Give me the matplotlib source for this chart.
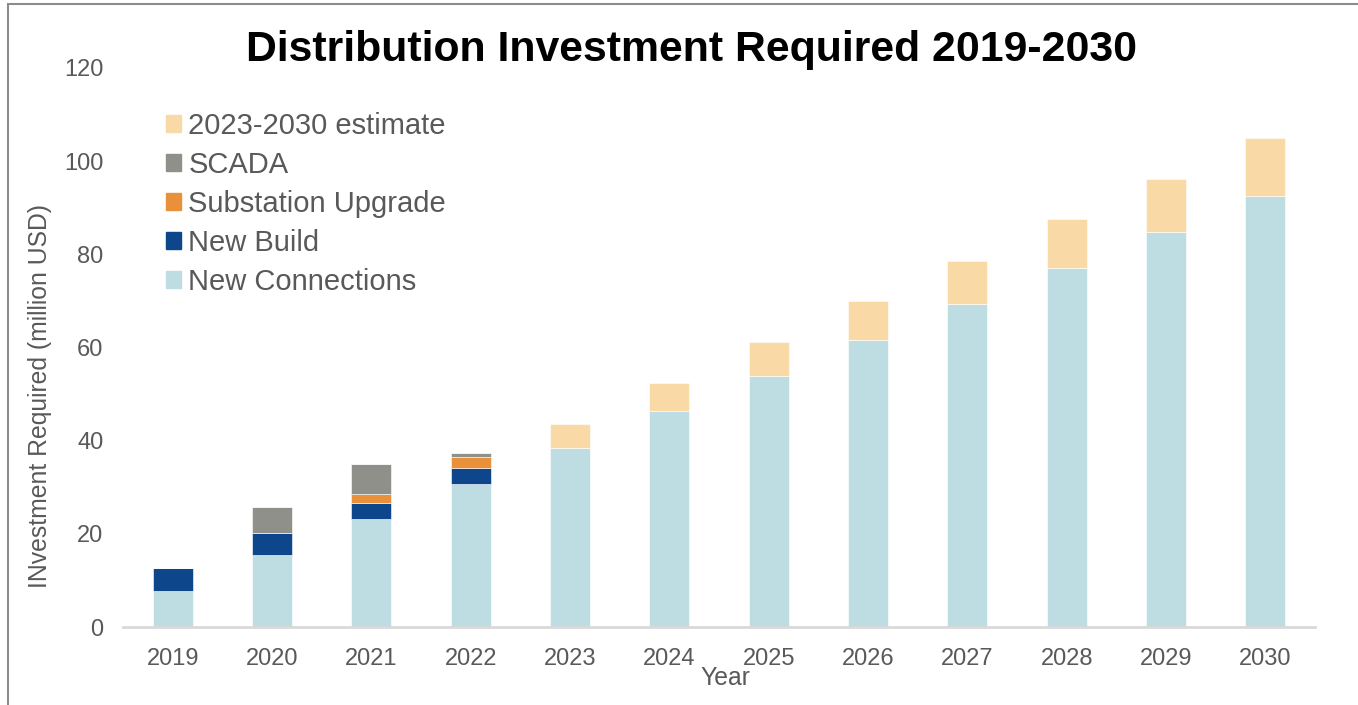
import numpy as np
import matplotlib.pyplot as plt
import matplotlib.patches as mpatches

plt.rcParams['font.family'] = ['Liberation Sans', 'DejaVu Sans']

years = ["2019", "2020", "2021", "2022", "2023", "2024", "2025", "2026", "2027", "2028", "2029", "2030"]
new_connections = [7.7, 15.5, 23.1, 30.8, 38.4, 46.4, 53.9, 61.6, 69.3, 77.1, 84.8, 92.5]
new_build       = [5.0, 4.7, 3.5, 3.4, 0, 0, 0, 0, 0, 0, 0, 0]
substation      = [0, 0, 2.0, 2.2, 0, 0, 0, 0, 0, 0, 0, 0]
scada           = [0, 5.5, 6.4, 0.9, 0, 0, 0, 0, 0, 0, 0, 0]
estimate        = [0, 0, 0, 0, 5.2, 6.0, 7.3, 8.4, 9.3, 10.4, 11.4, 12.5]

series = [("New Connections", new_connections, "#BDDDE3"),
          ("New Build", new_build, "#0D468B"),
          ("Substation Upgrade", substation, "#E8913A"),
          ("SCADA", scada, "#90908A"),
          ("2023-2030 estimate", estimate, "#F9D9A6")]

W, H = 1358, 705
fig = plt.figure(figsize=(W / 100, H / 100), dpi=100)
ax = fig.add_axes([123 / W, 1 - 627 / H, (1315 - 123) / W, (627 - 68) / H])

x = np.arange(len(years))
bottom = np.zeros(len(years))
for name, vals, col in series:
    vals = np.array(vals, dtype=float)
    ax.bar(x, vals, width=0.4, bottom=bottom, color=col, edgecolor="white", linewidth=0.4, label=name)
    bottom += vals

ax.set_xlim(-0.5, len(years) - 0.5)
ax.set_ylim(0, 120)
ax.set_yticks(np.arange(0, 121, 20))
ax.set_xticks(x)
ax.set_xticklabels(years)
ax.tick_params(axis="both", length=0, labelsize=17, colors="#595959")
ax.tick_params(axis="y", pad=14)
ax.tick_params(axis="x", pad=15)
for s in ["top", "right", "left"]:
    ax.spines[s].set_visible(False)
ax.spines["bottom"].set_color("#D9D9D9")
ax.spines["bottom"].set_linewidth(2)

# axis titles placed like the original (not centred on the axes)
fig.text(40 / W, 1 - 396 / H, "INvestment Required (million USD)", fontsize=17.8, color="#595959",
         rotation=90, ha="center", va="center")
fig.text(725 / W, 1 - 678 / H, "Year", fontsize=17.8, color="#595959", ha="center", va="center")

fig.text(691 / W, 1 - 50 / H, "Distribution Investment Required 2019-2030", fontsize=30.8, fontweight="bold",
         ha="center", va="center", color="black")

colors = dict((n, c) for n, _, c in series)
order = ["2023-2030 estimate", "SCADA", "Substation Upgrade", "New Build", "New Connections"]
leg_handles = [mpatches.Patch(color=colors[n]) for n in order]
fig.legend(leg_handles, order, loc="upper left", bbox_to_anchor=(166 / W, 1 - 112 / H),
           frameon=False, fontsize=21, labelcolor="#595959", handlelength=0.52, handleheight=0.52,
           handletextpad=0.25, labelspacing=0.375, borderaxespad=0, borderpad=0)

# outer frame
fig.patches.append(mpatches.Rectangle((8 / W, -0.05), 1.1, 1 - 4 / H + 0.05, transform=fig.transFigure,
                                      fill=False, edgecolor="#8C8C8C", linewidth=1.5))

fig.savefig("out.png", dpi=100)
